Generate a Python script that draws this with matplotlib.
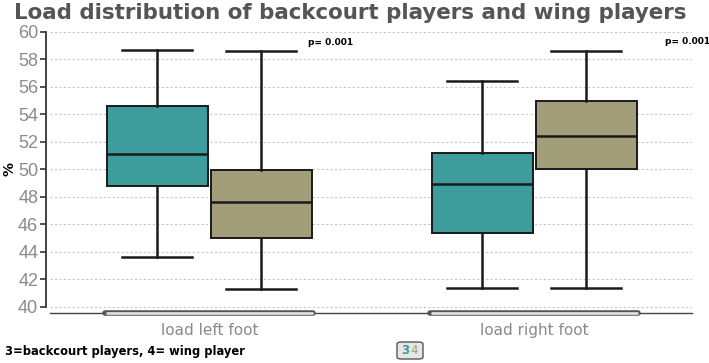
import matplotlib
matplotlib.use('Agg')
import matplotlib.pyplot as plt
from matplotlib.patches import FancyBboxPatch
from matplotlib import font_manager

# values (whislo, q1, median, q3, whishi)
categories = ['load left foot', 'load right foot']
groups = ['3', '4']
backcourt = [[43.6, 48.8, 51.1, 54.65, 58.7],
             [41.35, 45.35, 48.95, 51.2, 56.45]]
wing = [[41.3, 45.05, 47.6, 49.95, 58.6],
        [41.4, 50.0, 52.45, 54.95, 58.65]]
p_values = ['p= 0.001', 'p= 0.001']
yticks = [40, 42, 44, 46, 48, 50, 52, 54, 56, 58, 60]

teal = '#3d9c9c'
olive = '#a29e7a'
names = {f.name for f in font_manager.fontManager.ttflist}
tick_font = 'Liberation Sans Narrow' if 'Liberation Sans Narrow' in names else 'Liberation Sans'

fig = plt.figure(figsize=(7.09, 3.63), dpi=100)
ax = fig.add_axes([50 / 709, 1 - 313 / 363, 642 / 709, 282 / 363])

def stats(vals, label):
    lo, q1, med, q3, hi = vals
    return dict(whislo=lo, q1=q1, med=med, q3=q3, whishi=hi, fliers=[], label=label)

offset = 0.16
width = 0.31
for vals, color, sign in [(backcourt, teal, -1), (wing, olive, 1)]:
    pos = [i + sign * offset for i in range(len(categories))]
    ax.bxp([stats(v, '') for v in vals], positions=pos, widths=width,
           capwidths=0.215, patch_artist=True, showfliers=False,
           boxprops=dict(facecolor=color, edgecolor='#1a1a1a', linewidth=1.4),
           medianprops=dict(color='#1a1a1a', linewidth=1.8),
           whiskerprops=dict(color='#1a1a1a', linewidth=1.8),
           capprops=dict(color='#1a1a1a', linewidth=1.8))

ax.set_xlim(-0.49, 1.485)
ax.set_ylim(39.56, 60.07)
ax.set_yticks(yticks)
ax.set_xticks(range(len(categories)))
ax.set_xticklabels(categories, color='#8a8a8a', fontsize=11)
ax.tick_params(axis='x', length=0, pad=7)
ax.tick_params(axis='y', colors='#333333', labelcolor='#8a8a8a', length=4, width=1.2,
               labelsize=13, pad=1.5, labelfontfamily=tick_font)
ax.yaxis.grid(True, linestyle=(0, (2, 2)), color='#c8c8c8', linewidth=0.8)
ax.set_axisbelow(True)

for s in ['top', 'right']:
    ax.spines[s].set_visible(False)
ax.spines['left'].set_bounds(40, 60)
ax.spines['left'].set_position(('outward', 3))
ax.spines['left'].set_linewidth(1.3)
ax.spines['left'].set_color('#333333')
ax.spines['bottom'].set_color('#444444')
ax.spines['bottom'].set_linewidth(1.0)

# scroll-bar like markers under each category
for i in range(len(categories)):
    ax.plot([i - 0.32, i + 0.32], [39.56, 39.56], color='#555555', lw=4,
            solid_capstyle='round', clip_on=False, zorder=5)
    ax.plot([i - 0.315, i + 0.315], [39.56, 39.56], color='#dddddd', lw=2,
            solid_capstyle='round', clip_on=False, zorder=6)

# p values
ax.text(0.372, 59.2, p_values[0], fontsize=6.5, fontweight='bold', ha='center', va='center')
ax.text(1.47, 59.3, p_values[1], fontsize=6.5, fontweight='bold', ha='center', va='center',
        clip_on=False)

fig.text(10 / 709, 1 - 169 / 363, '%', fontsize=10, fontweight='bold', rotation=90,
         ha='center', va='center')

fig.text(14 / 709, 1 - 13 / 363, 'Load distribution of backcourt players and wing players',
         fontsize=15.4, fontweight='bold', color='#555555', va='center', ha='left')
fig.text(5 / 709, 1 - 351 / 363, '3=backcourt players, 4= wing player',
         fontsize=8.3, fontweight='bold', va='center', ha='left')

# small legend box
fig.patches.append(FancyBboxPatch((397 / 709, 1 - 359 / 363), 26 / 709, 17 / 363,
                                  boxstyle='round,pad=0,rounding_size=0.006',
                                  transform=fig.transFigure, facecolor='#e6e6e6',
                                  edgecolor='#555555', lw=1))
fig.text(405 / 709, 1 - 350 / 363, groups[0], fontsize=8.5, fontweight='bold', color=teal,
         va='center', ha='center')
fig.text(414 / 709, 1 - 350 / 363, groups[1], fontsize=8.5, color=olive,
         va='center', ha='center')

fig.savefig('out.png', dpi=100)
